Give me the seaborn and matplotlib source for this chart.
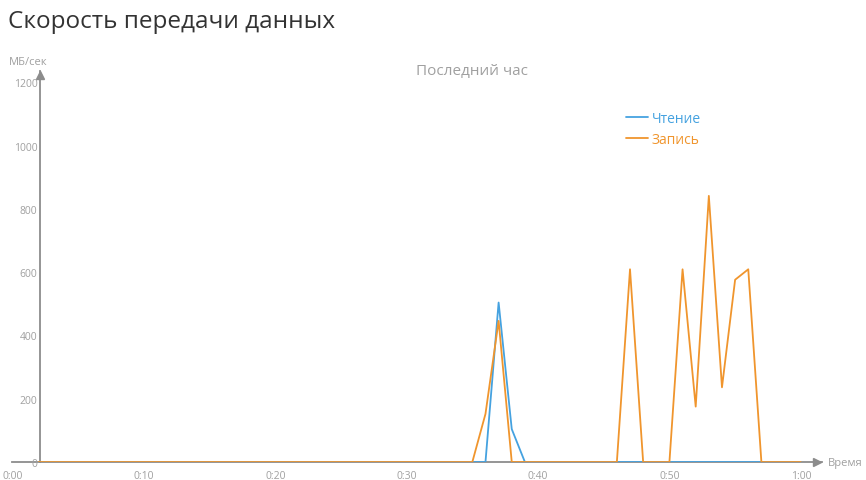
import pandas as pd
import matplotlib
matplotlib.use("Agg")
import matplotlib.pyplot as plt
import seaborn as sns

# Minutes of the last hour (x axis starts at the y-axis, minute 2)
minutes = list(range(2, 61))

# Read speed, MB/s (one value per minute, minutes 2..60)
read_speed = [0, 0, 0, 0, 0, 0, 0, 0, 0, 0,
              0, 0, 0, 0, 0, 0, 0, 0, 0, 0,
              0, 0, 0, 0, 0, 0, 0, 0, 0, 0,
              0, 0, 0, 0, 0, 504, 104, 0, 0, 0,
              0, 0, 0, 0, 0, 0, 0, 0, 0, 0,
              0, 0, 0, 0, 0, 0, 0, 0, 0]

# Write speed, MB/s
write_speed = [0, 0, 0, 0, 0, 0, 0, 0, 0, 0,
               0, 0, 0, 0, 0, 0, 0, 0, 0, 0,
               0, 0, 0, 0, 0, 0, 0, 0, 0, 0,
               0, 0, 0, 0, 152, 446, 0, 0, 0, 0,
               0, 0, 0, 0, 0, 609, 0, 0, 0, 609,
               175, 841, 236, 576, 609, 0, 0, 0, 0]

series_names = ["Чтение", "Запись"]
tick_minutes = [0, 10, 20, 30, 40, 50, 60]
tick_labels = ["0:00", "0:10", "0:20", "0:30", "0:40", "0:50", "1:00"]
y_ticks = [0, 200, 400, 600, 800, 1000, 1200]

df = pd.DataFrame({
    "minute": minutes * 2,
    "speed": read_speed + write_speed,
    "kind": [series_names[0]] * len(minutes) + [series_names[1]] * len(minutes),
})

sns.set_style("white")
plt.rcParams["font.family"] = ["Open Sans", "DejaVu Sans"]

fig = plt.figure(figsize=(8.66, 4.81), dpi=100)
ax = fig.add_axes([0.0144, 0.0374, 0.9346, 0.8125])

axis_grey = "#8c8c8c"
label_grey = "#a0a0a0"
palette = {"Чтение": "#45a2e0", "Запись": "#f0952d"}

sns.lineplot(data=df, x="minute", y="speed", hue="kind", hue_order=series_names,
             palette=palette, linewidth=1.3, ax=ax)

ax.set_xlim(0, 61.6)
ax.set_ylim(0, 1235)

# axes styling
sns.despine(ax=ax)
ax.spines["left"].set_position(("data", 2.1))
for side in ["left", "bottom"]:
    ax.spines[side].set_color(axis_grey)
    ax.spines[side].set_linewidth(1.3)
    ax.spines[side].set_zorder(0)

ax.set_xticks(tick_minutes)
ax.set_xticklabels(tick_labels)
ax.set_xticks(range(2, 61), minor=True)
ax.set_yticks(y_ticks)
ax.tick_params(axis="x", which="major", length=0, pad=6, labelsize=7.5, labelcolor=label_grey)
ax.tick_params(axis="x", which="minor", length=2, direction="inout", color="#c8c8c8", width=1)
ax.tick_params(axis="y", length=0, pad=2, labelsize=7.5, labelcolor=label_grey)
ax.set_xlabel("")
ax.set_ylabel("")

# arrow heads
ax.plot(61.2, 0, ">", color=axis_grey, markersize=6, clip_on=False, zorder=1)
ax.plot(2.1, 1222, "^", color=axis_grey, markersize=6, clip_on=False, zorder=1)

# axis names
ax.text(1.007, 0, "Время", transform=ax.transAxes, ha="left", va="center",
        fontsize=8, color=label_grey)
fig.text(0.0104, 0.871, "МБ/сек", ha="left", va="center", fontsize=8, color=label_grey)

# titles
fig.text(0.009, 0.955, "Скорость передачи данных", ha="left", va="center",
         fontsize=17.5, color="#333333")
fig.text(0.545, 0.851, "Последний час", ha="center", va="center",
         fontsize=11, color=label_grey)

leg = ax.legend(loc="upper left", bbox_to_anchor=(0.742, 0.93), frameon=False,
                handlelength=1.6, handletextpad=0.3, labelspacing=0.45,
                fontsize=10, labelcolor="linecolor")

fig.savefig("out.png", dpi=100)
